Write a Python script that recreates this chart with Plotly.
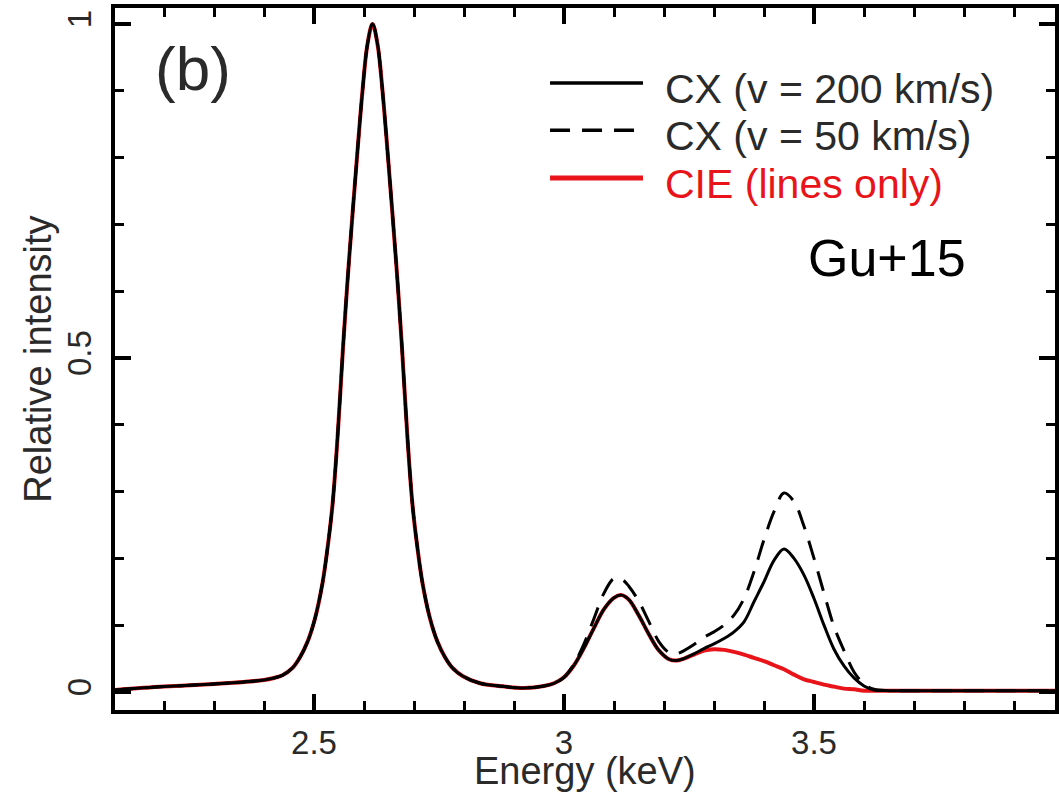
import plotly.graph_objects as go

# ---------------- data ----------------
energy = [2.10, 2.20, 2.30, 2.36, 2.40, 2.42, 2.437, 2.457, 2.472, 2.487, 2.502, 2.517,
          2.527, 2.537, 2.547, 2.558, 2.567, 2.577, 2.587, 2.597, 2.607, 2.617, 2.627,
          2.637, 2.647, 2.657, 2.667, 2.676, 2.687, 2.697, 2.707, 2.717, 2.732, 2.747,
          2.762, 2.777, 2.797, 2.832, 2.87, 2.92, 2.96, 2.98, 3.00, 3.02, 3.04, 3.06,
          3.08, 3.10, 3.115, 3.13, 3.15, 3.17, 3.19, 3.21, 3.225, 3.24, 3.26, 3.28,
          3.30, 3.32, 3.34, 3.36, 3.38, 3.40, 3.42, 3.44, 3.46, 3.48, 3.50, 3.52,
          3.54, 3.56, 3.58, 3.60, 3.62, 3.65, 3.70, 3.80, 3.90, 3.99]

cx_200 = [0.003, 0.008, 0.012, 0.015, 0.018, 0.021, 0.025, 0.036, 0.052, 0.075, 0.110, 0.163,
          0.215, 0.280, 0.380, 0.515, 0.615, 0.715, 0.810, 0.900, 0.970, 1.000, 0.970,
          0.900, 0.810, 0.715, 0.615, 0.515, 0.380, 0.280, 0.215, 0.163, 0.110, 0.075,
          0.052, 0.036, 0.024, 0.013, 0.009, 0.006, 0.009, 0.013, 0.022, 0.040, 0.066, 0.096,
          0.124, 0.141, 0.145, 0.138, 0.114, 0.086, 0.062, 0.049, 0.047, 0.050, 0.057, 0.065,
          0.072, 0.080, 0.090, 0.105, 0.135, 0.165, 0.197, 0.214, 0.200, 0.175, 0.140, 0.100,
          0.064, 0.039, 0.021, 0.009, 0.003, 0.002, 0.002, 0.002, 0.002, 0.002]

cx_50 = [0.003, 0.008, 0.012, 0.015, 0.018, 0.021, 0.025, 0.036, 0.052, 0.075, 0.110, 0.163,
         0.215, 0.280, 0.380, 0.515, 0.615, 0.715, 0.810, 0.900, 0.970, 1.000, 0.970,
         0.900, 0.810, 0.715, 0.615, 0.515, 0.380, 0.280, 0.215, 0.163, 0.110, 0.075,
         0.052, 0.036, 0.024, 0.013, 0.009, 0.006, 0.009, 0.013, 0.022, 0.042, 0.072, 0.110,
         0.148, 0.170, 0.169, 0.158, 0.135, 0.105, 0.075, 0.059, 0.057, 0.062, 0.071, 0.082,
         0.090, 0.100, 0.115, 0.140, 0.180, 0.228, 0.270, 0.298, 0.285, 0.248, 0.200, 0.148,
         0.098, 0.062, 0.030, 0.012, 0.004, 0.002, 0.002, 0.002, 0.002, 0.002]

cie = [0.003, 0.008, 0.012, 0.015, 0.018, 0.021, 0.025, 0.036, 0.052, 0.075, 0.110, 0.163,
       0.215, 0.280, 0.380, 0.515, 0.615, 0.715, 0.810, 0.900, 0.970, 1.000, 0.970,
       0.900, 0.810, 0.715, 0.615, 0.515, 0.380, 0.280, 0.215, 0.163, 0.110, 0.075,
       0.052, 0.036, 0.024, 0.013, 0.009, 0.006, 0.009, 0.013, 0.022, 0.040, 0.066, 0.096,
       0.124, 0.141, 0.145, 0.138, 0.114, 0.086, 0.062, 0.049, 0.047, 0.050, 0.056, 0.062,
       0.064, 0.063, 0.060, 0.056, 0.051, 0.046, 0.040, 0.034, 0.026, 0.019, 0.015, 0.011,
       0.008, 0.005, 0.004, 0.002, 0.002, 0.002, 0.002, 0.002, 0.002, 0.002]

series_names = ["CX (v = 200 km/s)", "CX (v = 50 km/s)", "CIE (lines only)"]
x_ticks = [2.5, 3, 3.5]
x_tick_text = ["2.5", "3", "3.5"]
y_ticks = [0, 0.5, 1]
y_tick_text = ["0", "0.5", "1"]
x_range = [2.102, 3.982]
y_range = [-0.027, 1.024]

RED = "rgb(232,20,26)"
FONT = "Liberation Sans, Arial, sans-serif"
TXT = "#2a2a2a"
SM = 1.0

fig = go.Figure()
fig.add_trace(go.Scatter(x=energy, y=cie, mode="lines", name=series_names[2],
                         line=dict(color=RED, width=4, shape="spline", smoothing=SM)))
fig.add_trace(go.Scatter(x=energy, y=cx_50, mode="lines", name=series_names[1],
                         line=dict(color="black", width=3, dash="20px,12px",
                                   shape="spline", smoothing=SM)))
fig.add_trace(go.Scatter(x=energy, y=cx_200, mode="lines", name=series_names[0],
                         line=dict(color="black", width=3, shape="spline", smoothing=SM)))
# invisible trace on a second, coincident subplot that carries the top/right ticks
fig.add_trace(go.Scatter(x=[x_range[0]], y=[y_range[0]], mode="markers", xaxis="x2",
                         yaxis="y2", marker=dict(size=1, opacity=0), hoverinfo="skip",
                         showlegend=False))

tick_common = dict(ticks="inside", ticklen=16, tickwidth=3.5, tickcolor="black",
                   showgrid=False, zeroline=False, automargin=False)
minor_common = dict(dtick=0.1, ticks="inside", ticklen=9, tickwidth=3,
                    tickcolor="black", showgrid=False)

fig.update_layout(
    xaxis=dict(range=x_range, tickvals=x_ticks, ticktext=x_tick_text, domain=[0, 1],
               showline=True, linecolor="black", linewidth=4, mirror=True,
               minor=dict(tick0=2.0, **minor_common),
               tickfont=dict(family=FONT, size=33, color=TXT),
               **tick_common),
    yaxis=dict(range=y_range, tickvals=y_ticks, ticktext=y_tick_text, tickangle=-90,
               domain=[0, 1],
               showline=True, linecolor="black", linewidth=4, mirror=True,
               minor=dict(tick0=0, **minor_common),
               tickfont=dict(family=FONT, size=33, color=TXT),
               ticklabelstandoff=7,
               **tick_common),
    xaxis2=dict(range=x_range, anchor="y2", side="top", tickvals=x_ticks, domain=[0, 1],
                showticklabels=False, showline=False,
                minor=dict(tick0=2.0, **minor_common), **tick_common),
    yaxis2=dict(range=y_range, anchor="x2", side="right", tickvals=y_ticks, domain=[0, 1],
                showticklabels=False, showline=False,
                minor=dict(tick0=0, **minor_common), **tick_common),
)

# axis titles placed as annotations
fig.add_annotation(xref="paper", yref="paper", x=0.5, y=-0.087, text="Energy (keV)",
                   showarrow=False, xanchor="center", yanchor="middle",
                   font=dict(family=FONT, size=38, color=TXT))
fig.add_annotation(xref="paper", yref="paper", x=-0.0822, y=0.500, text="Relative intensity",
                   textangle=-90, showarrow=False, xanchor="center", yanchor="middle",
                   font=dict(family=FONT, size=38, color=TXT))

# manual legend (line samples + labels), in paper coordinates
leg_lines = [0.893, 0.826, 0.758]
leg_text = [0.885, 0.818, 0.750]
leg_styles = [dict(color="black", width=3.5, dash="solid"),
              dict(color="black", width=3.5, dash="20px,12px"),
              dict(color=RED, width=5, dash="solid")]
leg_colors = [TXT, TXT, RED]
for yl, yt, st, nm, col in zip(leg_lines, leg_text, leg_styles, series_names, leg_colors):
    fig.add_shape(type="line", xref="paper", yref="paper", x0=0.4628, x1=0.5617,
                  y0=yl, y1=yl, line=st)
    fig.add_annotation(xref="paper", yref="paper", x=0.583, y=yt, text=nm,
                       showarrow=False, xanchor="left", yanchor="middle",
                       font=dict(family=FONT, size=41, color=col))

fig.add_annotation(xref="paper", yref="paper", x=0.040, y=0.914, text="(b)",
                   showarrow=False, xanchor="left", yanchor="middle",
                   font=dict(family=FONT, size=62, color=TXT))
fig.add_annotation(xref="paper", yref="paper", x=0.735, y=0.644, text="Gu+15",
                   showarrow=False, xanchor="left", yanchor="middle",
                   font=dict(family=FONT, size=52, color="black"))

fig.update_layout(width=1059, height=792, showlegend=False,
                  margin=dict(l=115, r=4, t=8, b=82),
                  paper_bgcolor="white", plot_bgcolor="rgba(0,0,0,0)")

fig.write_html("out.html")
